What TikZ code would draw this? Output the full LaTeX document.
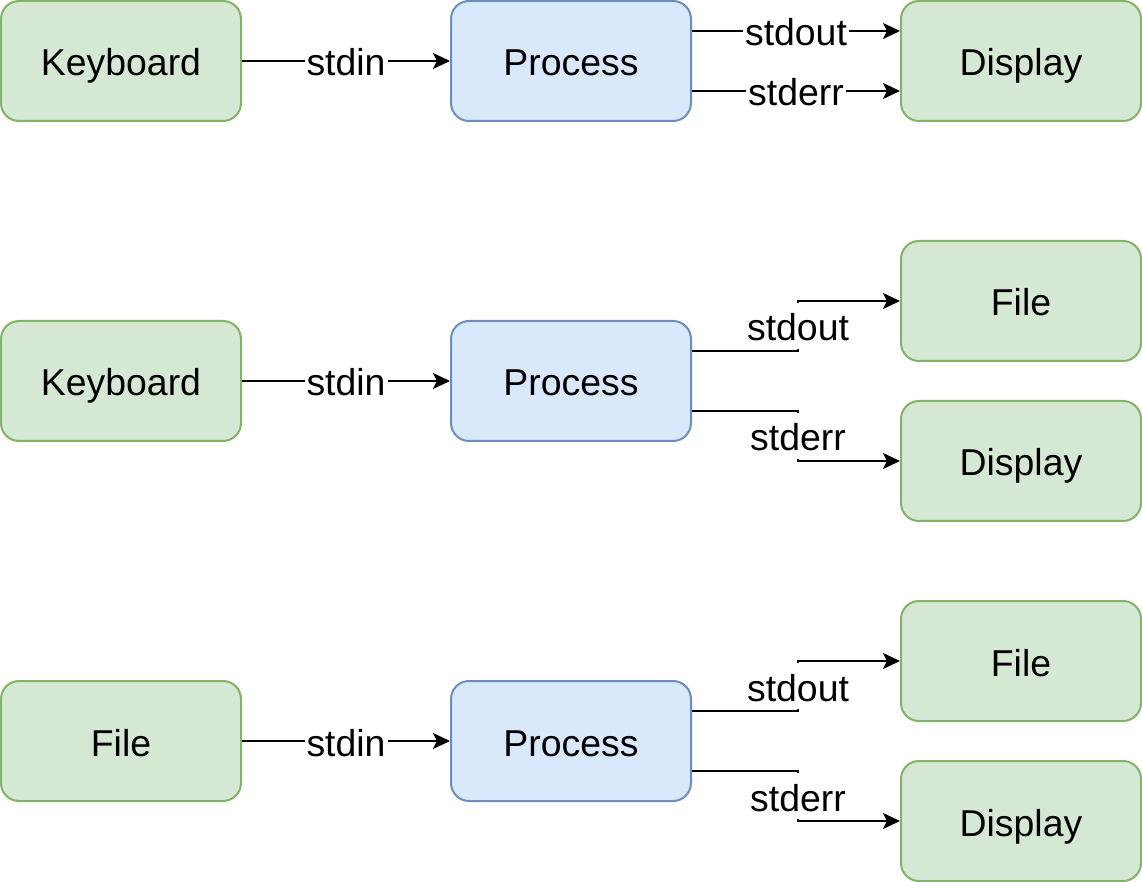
\documentclass[tikz,border=0pt]{standalone}
\usepackage{fontspec}
\setmainfont{Liberation Sans}
\usetikzlibrary{arrows.meta}

\begin{document}
\begin{tikzpicture}[x=0.5pt, y=-0.5pt, >={Stealth[length=8.5pt, width=8pt, inset=2pt]},
  every box/.style={rounded corners=9pt, line width=1pt, minimum width=120pt,
    minimum height=60pt, text height=18pt, text depth=3pt,
    font=\fontsize{18.7}{22}\selectfont},
  io box/.style={every box, draw={rgb,255:red,130;green,179;blue,102},
    fill={rgb,255:red,213;green,232;blue,212}},
  proc box/.style={every box, draw={rgb,255:red,108;green,142;blue,191},
    fill={rgb,255:red,218;green,232;blue,252}},
  stream/.style={fill=white, inner xsep=1pt, inner ysep=1pt, text height=18pt,
    text depth=3pt, font=\fontsize{18.7}{22}\selectfont},
  every path/.style={line width=1pt}]

\useasboundingbox (0,0) rectangle (1142,882);

\foreach \l/\r [count=\y from 0] in {Keyboard/61,Keyboard/381,File/741}
  \node [io box] (src-\y) at (121,\r) {\l};

\foreach \r [count=\y from 0] in {61,381,741}
  \node [proc box] (proc-\y) at (571,\r) {Process};

\node [io box] (disp-0) at (1021,61) {Display};

\foreach \r [count=\y] in {381,741} {
  \node [io box] (file-\y) at (1021,\r-80) {File};
  \node [io box] (disp-\y) at (1021,\r+80) {Display};
}

\foreach \y in {0,1,2}
  \draw [->] (src-\y) -- (proc-\y)
    node [stream, midway] {stdin};

\draw [->] ([yshift=15pt]proc-0.east) -- ([yshift=15pt]disp-0.west)
    node [stream, midway] {stdout};
\draw [->] ([yshift=-15pt]proc-0.east) -- ([yshift=-15pt]disp-0.west)
    node [stream, midway] {stderr};

\foreach \y in {1,2} {
  \draw [->] ([yshift=15pt]proc-\y.east) -- ++(106,0) |- (file-\y)
    node [stream, pos=.25] {stdout};
  \draw [->] ([yshift=-15pt]proc-\y.east) -- ++(106,0) |- (disp-\y)
    node [stream, pos=.25] {stderr};
}

\end{tikzpicture}
\end{document}
